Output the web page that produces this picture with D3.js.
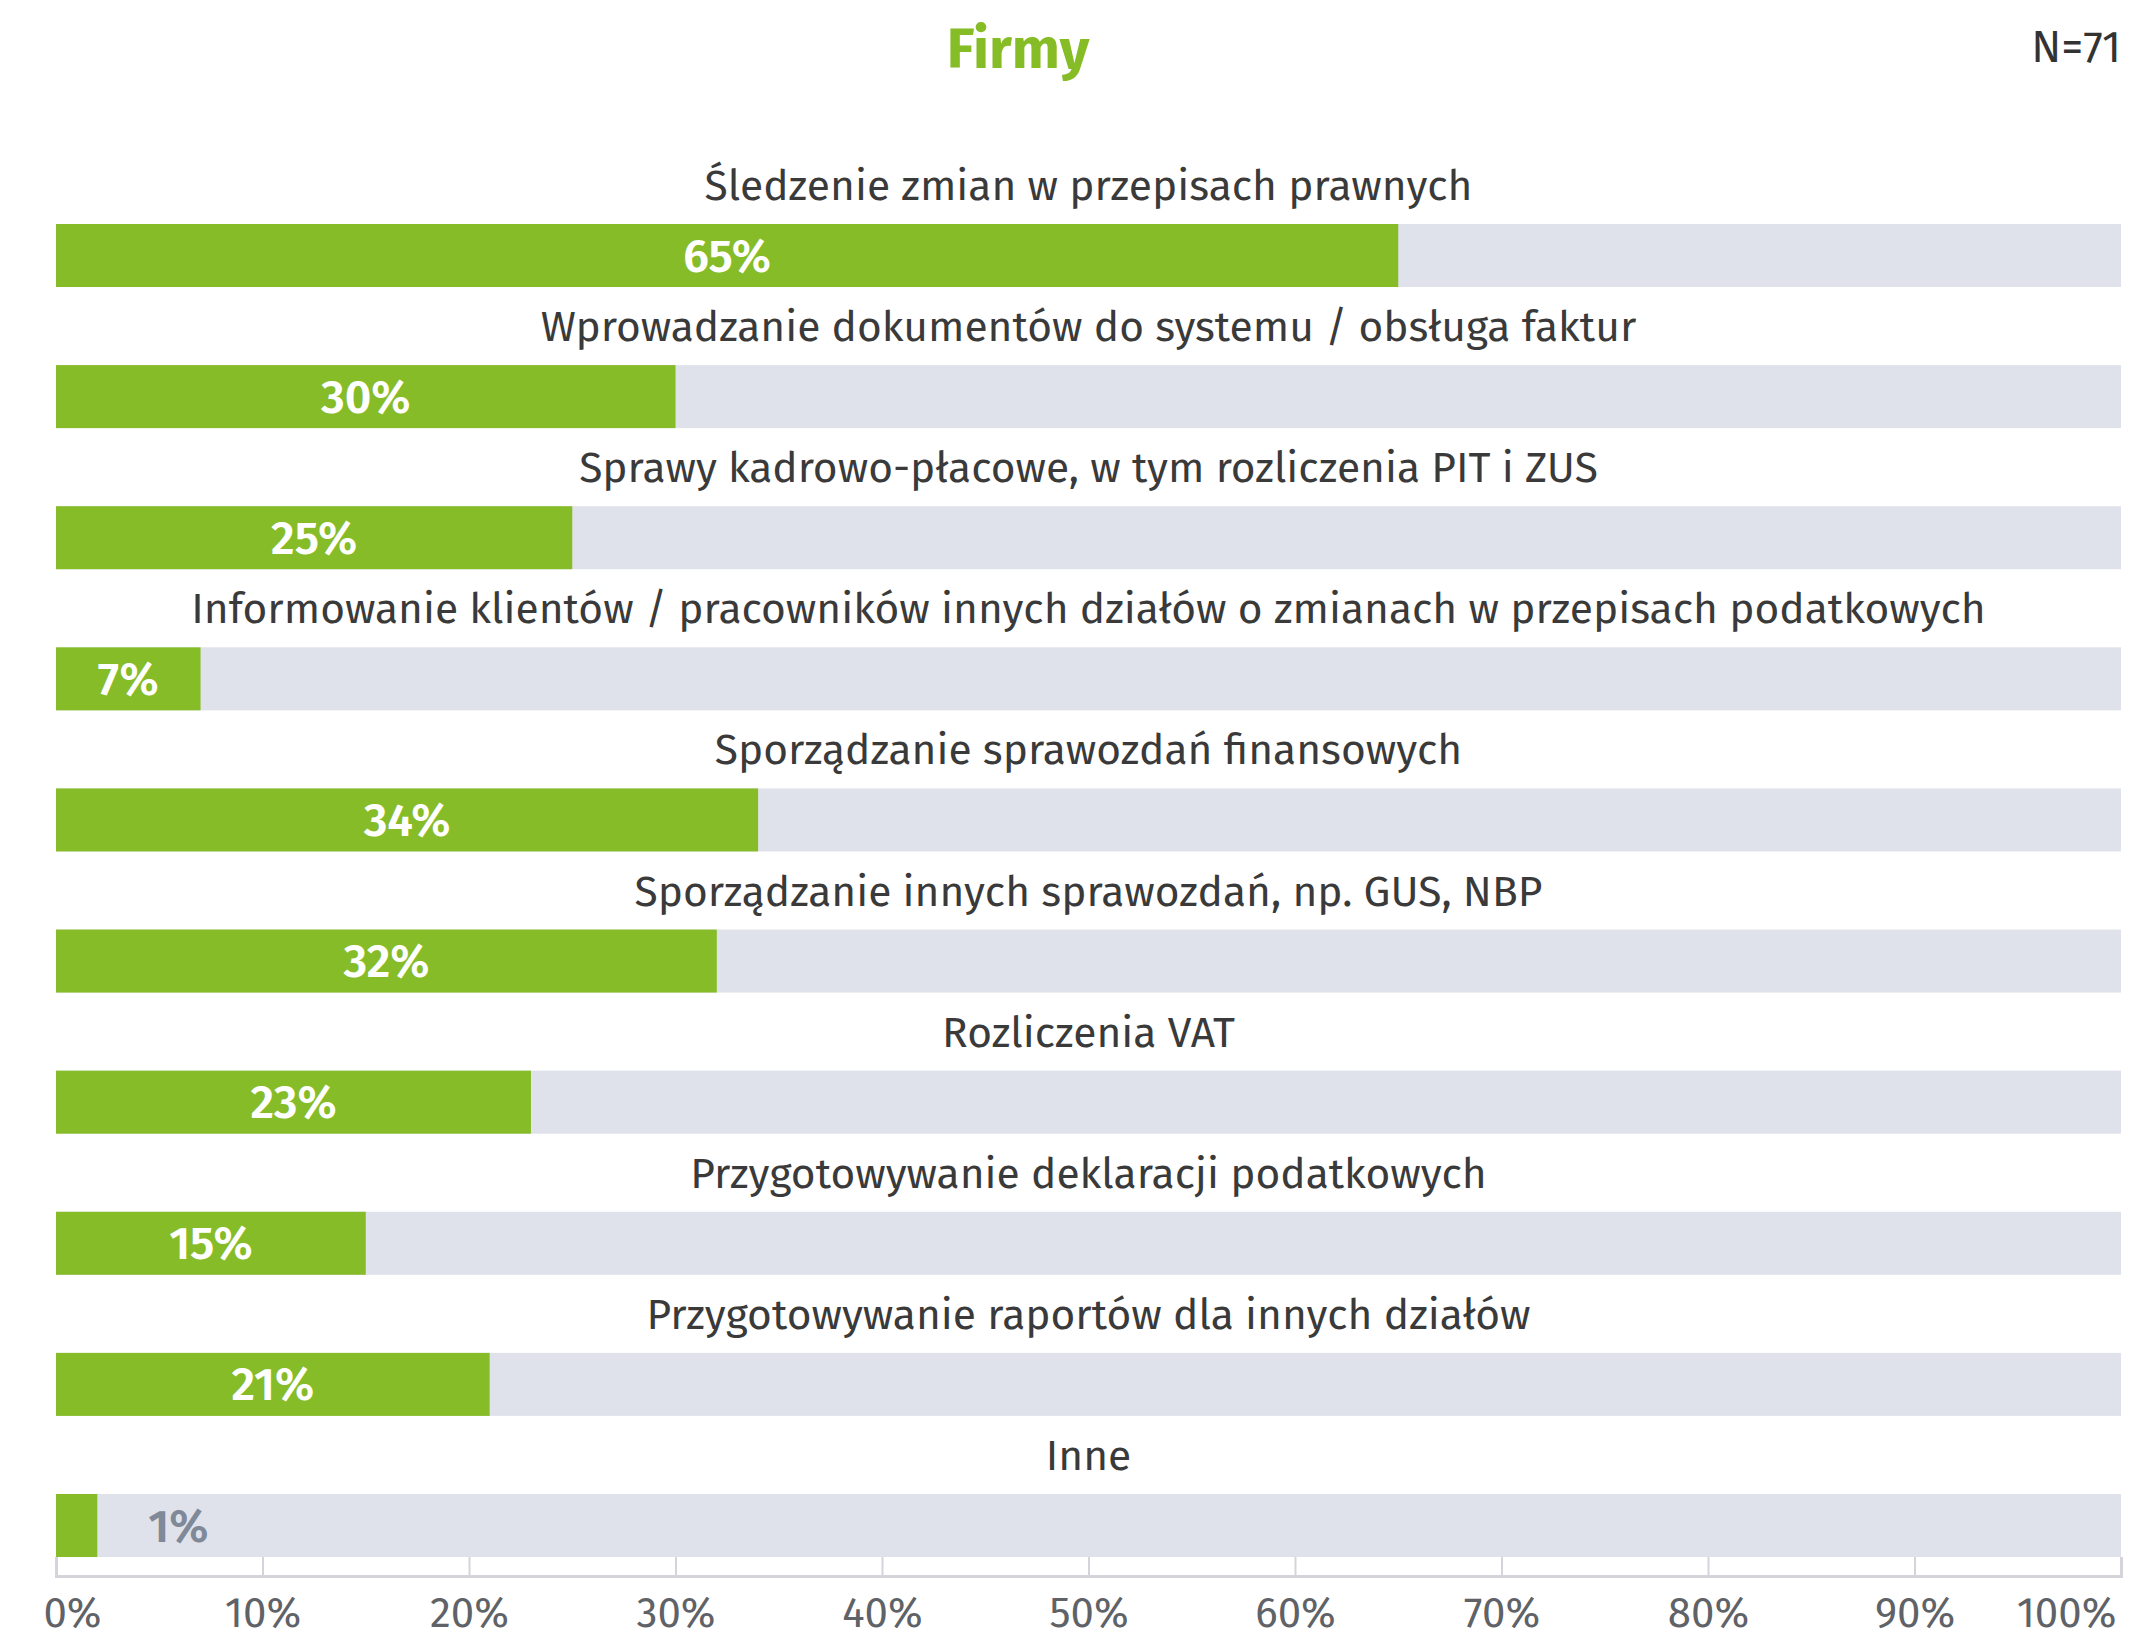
<!DOCTYPE html>
<html>
<head>
<meta charset="utf-8">
<script src="https://cdn.jsdelivr.net/npm/d3@7"></script>
<style>
    body { margin: 0; background: #fff; }
    text { font-family: "Fira Sans", "Noto Sans", sans-serif; }
</style>
</head>
<body>
<div id="dataChart"></div>
<script>
const title = 'Firmy'
const sampleSize = 'N=71'
const categories = [
    'Śledzenie zmian w przepisach prawnych',
    'Wprowadzanie dokumentów do systemu / obsługa faktur',
    'Sprawy kadrowo-płacowe, w tym rozliczenia PIT i ZUS',
    'Informowanie klientów / pracowników innych działów o zmianach w przepisach podatkowych',
    'Sporządzanie sprawozdań finansowych',
    'Sporządzanie innych sprawozdań, np. GUS, NBP',
    'Rozliczenia VAT',
    'Przygotowywanie deklaracji podatkowych',
    'Przygotowywanie raportów dla innych działów',
    'Inne'
]
const values = [65, 30, 25, 7, 34, 32, 23, 15, 21, 2]
const valueLabels = ['65%', '30%', '25%', '7%', '34%', '32%', '23%', '15%', '21%', '1%']
const tickValues = [0, 10, 20, 30, 40, 50, 60, 70, 80, 90, 100]

document.addEventListener('DOMContentLoaded', () => {
    draw()
});

function draw() {
    const viewBoxWidth = 2133
    const viewBoxHeight = 1639
    const left = 56
    const right = 2121
    const firstBarTop = 224
    const lastBarBottom = 1557
    const barHeight = 63
    const axisY = 1576

    const svg = d3.select('#dataChart')
        .append('svg')
        .attr('width', viewBoxWidth)
        .attr('height', viewBoxHeight)
        .attr('viewBox', [0, 0, viewBoxWidth, viewBoxHeight])

    const x = d3.scaleLinear().domain([0, 100]).range([left, right])
    const step = (lastBarBottom - firstBarTop - barHeight) / (categories.length - 1)
    const y = d3.scaleBand()
        .domain(categories)
        .range([firstBarTop, lastBarBottom])
        .paddingInner(1 - barHeight / step)
        .paddingOuter(0)

    // title + N
    svg.append('text')
        .attr('x', 1018)
        .attr('y', 68)
        .attr('text-anchor', 'middle')
        .attr('font-size', 57)
        .attr('font-weight', 'bold')
        .attr('fill', '#86bc25')
        .text(title)
    svg.append('text')
        .attr('x', right)
        .attr('y', 62)
        .attr('text-anchor', 'end')
        .attr('font-size', 44)
        .attr('fill', '#333')
        .text(sampleSize)

    // ticks between the last bar and axis line
    const axis = svg.append('g')
        .attr('transform', `translate(0, ${axisY})`)
        .call(d3.axisTop(x).tickValues(tickValues).tickSize(axisY - lastBarBottom).tickFormat(d => d + '%'))
    axis.select('.domain').attr('stroke', '#d3d5da').attr('stroke-width', 3)
    axis.selectAll('.tick line').attr('stroke', '#d3d5da').attr('stroke-width', 2)
    axis.selectAll('.tick text')
        .attr('y', 51)
        .attr('dy', 0)
        .attr('dx', d => d === 0 ? 16 : d === 100 ? -55 : 0)
        .attr('font-size', 42)
        .attr('fill', '#5f6266')
        .attr('text-anchor', 'middle')
        .attr('font-family', '"Fira Sans", "Noto Sans", sans-serif')

    const rows = svg.append('g')
        .selectAll('g')
        .data(categories)
        .enter()
        .append('g')

    rows.append('rect')
        .attr('x', x(0))
        .attr('y', d => y(d))
        .attr('width', x(100) - x(0))
        .attr('height', y.bandwidth())
        .attr('fill', '#dfe2ea')

    rows.append('rect')
        .attr('x', x(0))
        .attr('y', d => y(d))
        .attr('width', (d, i) => x(values[i]) - x(0))
        .attr('height', y.bandwidth())
        .attr('fill', '#86bc28')

    rows.append('text')
        .attr('x', (x(0) + x(100)) / 2)
        .attr('y', d => y(d) - 24)
        .attr('text-anchor', 'middle')
        .attr('font-size', 42.5)
        .attr('fill', '#3a3a3a')
        .text(d => d)

    rows.append('text')
        .attr('x', (d, i) => values[i] < 5 ? x(values[i]) + 81 : (x(0) + x(values[i])) / 2)
        .attr('y', d => y(d) + y.bandwidth() / 2 + 16)
        .attr('text-anchor', 'middle')
        .attr('font-size', 46)
        .attr('font-weight', 600)
        .attr('fill', (d, i) => values[i] < 5 ? '#7f8998' : '#fff')
        .text((d, i) => valueLabels[i])
}
</script>
</body>
</html>
